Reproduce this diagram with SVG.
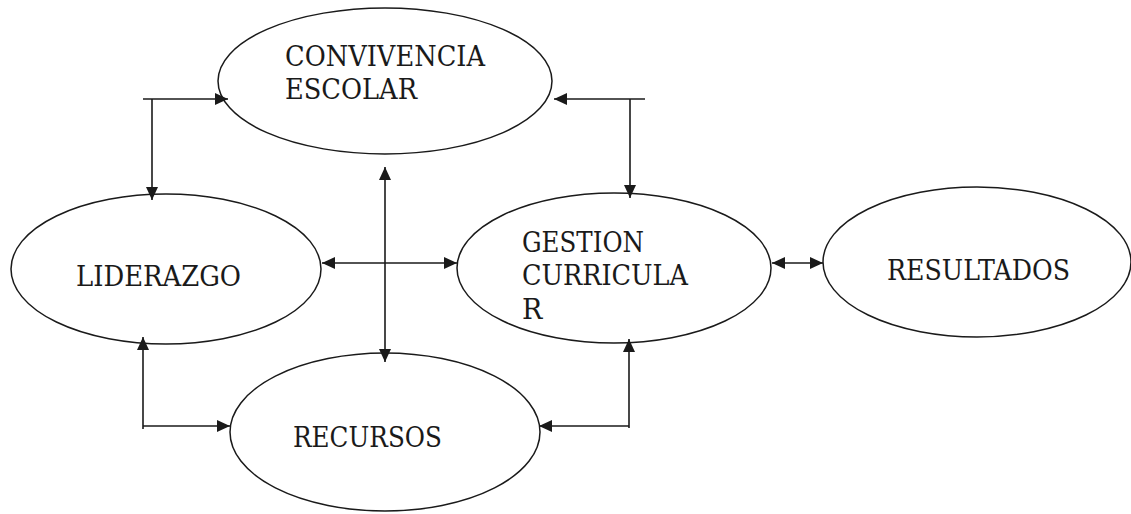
<svg xmlns="http://www.w3.org/2000/svg" width="1131" height="514" viewBox="0 0 1131 514">
<style>
.node ellipse{fill:#fff;stroke:#1a1a1a;stroke-width:1.5}
.node text{font-family:"DejaVu Serif","Liberation Serif",serif;font-size:27px;fill:#1a1a1a}
.conn line{stroke:#1a1a1a;stroke-width:1.6}
</style>
<defs>
<marker id="ah" viewBox="0 0 13 12" refX="13" refY="6" markerWidth="13" markerHeight="12" markerUnits="userSpaceOnUse" orient="auto-start-reverse">
<path d="M0,0 L13,6 L0,12 Z" fill="#1a1a1a"/>
</marker>
</defs>
<rect width="1131" height="514" fill="#fff"/>
<g id="convivencia" class="node">
<ellipse cx="385" cy="81" rx="167" ry="73"/>
<text x="285" y="66" textLength="200" lengthAdjust="spacingAndGlyphs">CONVIVENCIA</text>
<text x="285" y="99" textLength="132" lengthAdjust="spacingAndGlyphs">ESCOLAR</text>
</g>
<g id="liderazgo" class="node">
<ellipse cx="166" cy="269" rx="155" ry="75"/>
<text x="76" y="286" textLength="165" lengthAdjust="spacingAndGlyphs">LIDERAZGO</text>
</g>
<g id="gestion" class="node">
<ellipse cx="614" cy="268" rx="157" ry="75"/>
<text x="522" y="252" textLength="122" lengthAdjust="spacingAndGlyphs">GESTION</text>
<text x="522" y="285" textLength="166" lengthAdjust="spacingAndGlyphs">CURRICULA</text>
<text x="522" y="319">R</text>
</g>
<g id="resultados" class="node">
<ellipse cx="977" cy="262" rx="154" ry="75"/>
<text x="887" y="280" textLength="183" lengthAdjust="spacingAndGlyphs">RESULTADOS</text>
</g>
<g id="recursos" class="node">
<ellipse cx="385" cy="432" rx="155" ry="79"/>
<text x="293" y="447" textLength="149" lengthAdjust="spacingAndGlyphs">RECURSOS</text>
</g>
<g id="connectors" class="conn">
<line x1="143" y1="99" x2="228" y2="99" marker-end="url(#ah)"/>
<line x1="152" y1="99" x2="152" y2="200" marker-end="url(#ah)"/>
<line x1="645" y1="99" x2="554" y2="99" marker-end="url(#ah)"/>
<line x1="630" y1="99" x2="630" y2="198" marker-end="url(#ah)"/>
<line x1="385" y1="167" x2="385" y2="362" marker-start="url(#ah)" marker-end="url(#ah)"/>
<line x1="322" y1="263" x2="457" y2="263" marker-start="url(#ah)" marker-end="url(#ah)"/>
<line x1="143" y1="337" x2="143" y2="429" marker-start="url(#ah)"/>
<line x1="143" y1="426" x2="230" y2="426" marker-end="url(#ah)"/>
<line x1="629" y1="339" x2="629" y2="428" marker-start="url(#ah)"/>
<line x1="629" y1="426" x2="539" y2="426" marker-end="url(#ah)"/>
<line x1="772" y1="263" x2="823" y2="263" marker-start="url(#ah)" marker-end="url(#ah)"/>
</g>
</svg>
